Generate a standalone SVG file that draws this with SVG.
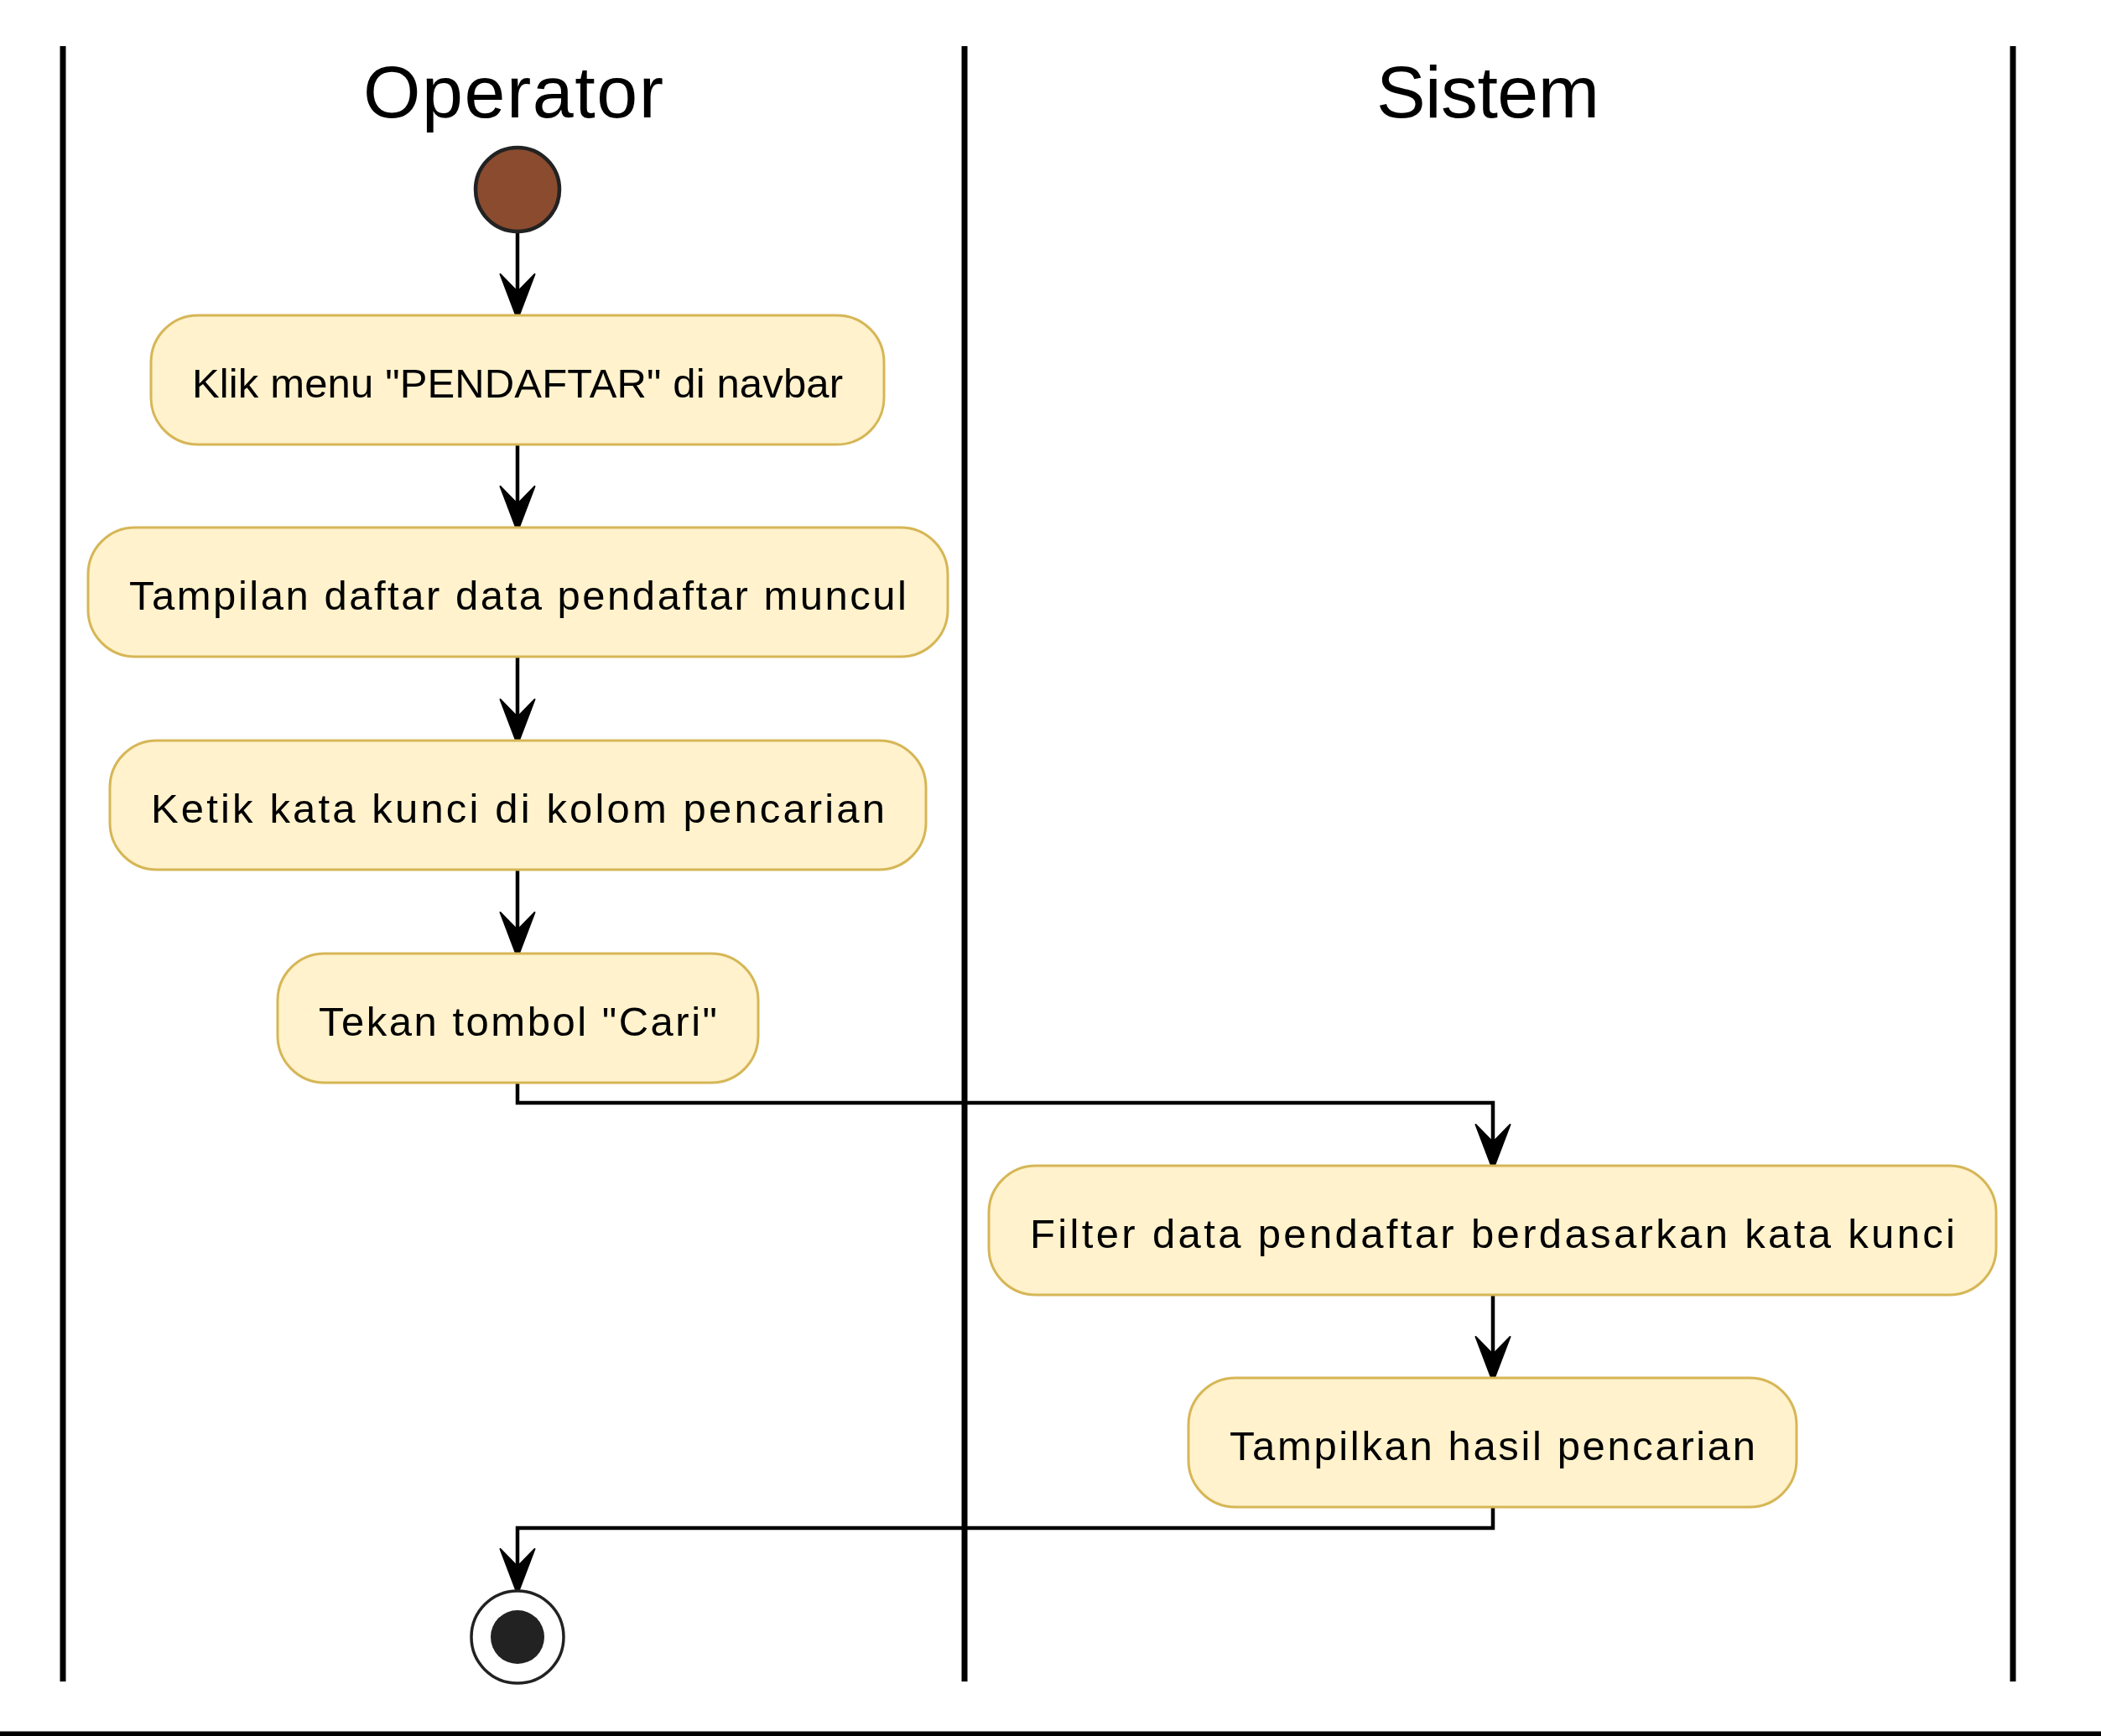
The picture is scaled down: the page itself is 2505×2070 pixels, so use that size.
<svg xmlns="http://www.w3.org/2000/svg" xmlns:xlink="http://www.w3.org/1999/xlink" width="2505" height="2070" viewBox="0 0 2505 2070">
<style>
.lane{stroke:#000;stroke-width:7;fill:none}
.title{font-family:"Liberation Sans",Arial,sans-serif;font-size:88px;fill:#000}
.act{fill:#FFF2CC;stroke:#D6B656;stroke-width:3}
.lbl{font-family:"Liberation Sans",Arial,sans-serif;font-size:49px;fill:#000}
.edge{stroke:#000;stroke-width:4.5;fill:none}
.ah{fill:#000;stroke:#000;stroke-width:2;stroke-linejoin:round}
</style>
<defs>
<path id="ah" class="ah" d="M0,0 L-20.5,-54 L0,-33 L20.5,-54 Z"/>
</defs>
<rect x="0" y="0" width="2505" height="2070" fill="#fff"/>
<g id="lanes">
<line class="lane" x1="75" y1="55" x2="75" y2="2005"/>
<line class="lane" x1="1150" y1="55" x2="1150" y2="2005"/>
<line class="lane" x1="2400" y1="55" x2="2400" y2="2005"/>
<line x1="0" y1="2067.5" x2="2505" y2="2067.5" stroke="#000" stroke-width="6"/>
<text class="title" x="433" y="140" textLength="358" lengthAdjust="spacing">Operator</text>
<text class="title" x="1641" y="140" textLength="266" lengthAdjust="spacing">Sistem</text>
</g>
<g id="connectors">
<line class="edge" x1="617" y1="276" x2="617" y2="360"/>
<use xlink:href="#ah" x="617" y="381"/>
<line class="edge" x1="617" y1="530" x2="617" y2="612"/>
<use xlink:href="#ah" x="617" y="634"/>
<line class="edge" x1="617" y1="783" x2="617" y2="866"/>
<use xlink:href="#ah" x="617" y="888"/>
<line class="edge" x1="617" y1="1037" x2="617" y2="1120"/>
<use xlink:href="#ah" x="617" y="1142"/>
<path class="edge" d="M617,1291 V1315 H1780 V1373"/>
<use xlink:href="#ah" x="1780" y="1395"/>
<line class="edge" x1="1780" y1="1544" x2="1780" y2="1626"/>
<use xlink:href="#ah" x="1780" y="1648"/>
<path class="edge" d="M1780,1797 V1822 H617 V1880"/>
<use xlink:href="#ah" x="617" y="1901"/>
</g>
<g id="start">
<circle cx="617" cy="226" r="50" fill="#8A4B2F" stroke="#222" stroke-width="4.5"/>
</g>
<g id="a1">
<rect class="act" x="180" y="376" width="874" height="154" rx="56" ry="56"/>
<text class="lbl" x="229" y="474" textLength="776" lengthAdjust="spacing">Klik menu "PENDAFTAR" di navbar</text>
</g>
<g id="a2">
<rect class="act" x="105" y="629" width="1025" height="154" rx="56" ry="56"/>
<text class="lbl" x="154" y="727" textLength="927" lengthAdjust="spacing">Tampilan daftar data pendaftar muncul</text>
</g>
<g id="a3">
<rect class="act" x="131" y="883" width="973" height="154" rx="56" ry="56"/>
<text class="lbl" x="180" y="981" textLength="875" lengthAdjust="spacing">Ketik kata kunci di kolom pencarian</text>
</g>
<g id="a4">
<rect class="act" x="331" y="1137" width="573" height="154" rx="56" ry="56"/>
<text class="lbl" x="380" y="1235" textLength="475" lengthAdjust="spacing">Tekan tombol "Cari"</text>
</g>
<g id="a5">
<rect class="act" x="1179" y="1390" width="1201" height="154" rx="56" ry="56"/>
<text class="lbl" x="1228" y="1488" textLength="1103" lengthAdjust="spacing">Filter data pendaftar berdasarkan kata kunci</text>
</g>
<g id="a6">
<rect class="act" x="1417" y="1643" width="725" height="154" rx="56" ry="56"/>
<text class="lbl" x="1466" y="1741" textLength="627" lengthAdjust="spacing">Tampilkan hasil pencarian</text>
</g>
<g id="end">
<circle cx="617" cy="1952" r="55" fill="#fff" stroke="#222" stroke-width="3.5"/>
<circle cx="617" cy="1952" r="32" fill="#222"/>
</g>
</svg>
